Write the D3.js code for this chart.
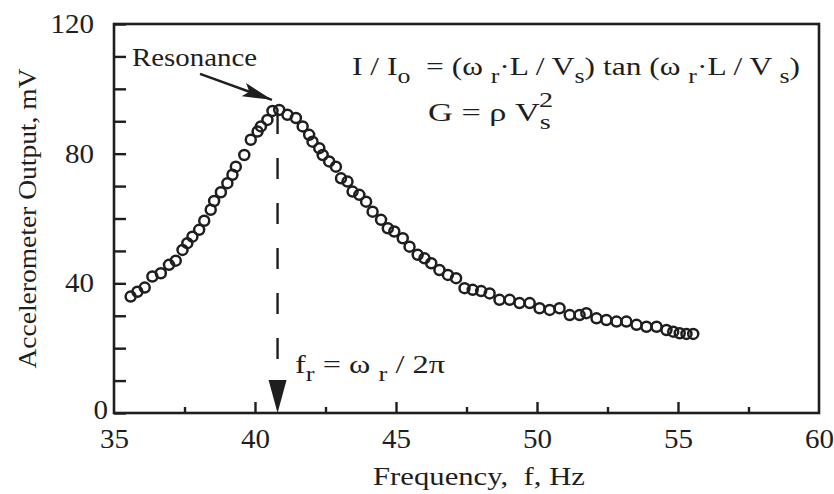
<!DOCTYPE html>
<html>
<head>
<meta charset="utf-8">
<script src="https://cdn.jsdelivr.net/npm/d3@7"></script>
<style>
    body { margin: 0; background: #ffffff; }
    svg { display: block; }
    text { font-family: "Liberation Serif", "Times New Roman", serif; fill: #1e1e1e; white-space: pre; }
</style>
</head>
<body>
<div id="chart"></div>
<script>
// Frequency (Hz) and accelerometer output (mV)
var freq = [
    35.59, 35.83, 36.09, 36.36, 36.66, 36.95, 37.19, 37.43, 37.60, 37.78,
    38.02, 38.20, 38.43, 38.55, 38.79, 39.02, 39.20, 39.32, 39.62, 39.85,
    40.09, 40.21, 40.44, 40.62, 40.86, 41.15, 41.45, 41.69, 41.92, 42.04,
    42.28, 42.40, 42.63, 42.87, 43.05, 43.28, 43.46, 43.70, 43.94, 44.17,
    44.47, 44.71, 44.94, 45.24, 45.48, 45.77, 46.01, 46.25, 46.54, 46.84,
    47.13, 47.43, 47.72, 48.02, 48.32, 48.67, 49.03, 49.38, 49.74, 50.09,
    50.45, 50.80, 51.16, 51.51, 51.75, 52.11, 52.46, 52.82, 53.17, 53.53,
    53.88, 54.24, 54.59, 54.83, 55.06, 55.30, 55.54
];
var output = [
    35.9, 37.4, 38.7, 42.1, 43.1, 45.7, 47.0, 50.3, 52.4, 54.4,
    56.5, 59.3, 62.7, 65.4, 68.1, 70.9, 73.5, 76.0, 79.6, 84.3,
    86.8, 88.4, 90.4, 93.2, 93.5, 92.0, 91.0, 88.4, 85.8, 83.7,
    81.7, 79.6, 77.6, 76.0, 72.4, 71.4, 68.3, 67.3, 65.2, 62.1,
    59.6, 57.0, 56.0, 53.9, 51.3, 48.8, 47.7, 46.2, 44.1, 42.6,
    41.6, 38.5, 38.0, 37.6, 36.9, 34.9, 34.9, 33.9, 33.9, 32.3,
    31.8, 32.3, 30.2, 30.2, 30.8, 29.2, 28.7, 28.2, 28.2, 27.2,
    26.6, 26.6, 25.6, 25.1, 24.6, 24.4, 24.4
];

// Axis ticks
var xTicks = [35, 40, 45, 50, 55, 60];
var xMinorTicks = [37.5, 42.5, 47.5, 52.5, 57.5];
var yTicks = [0, 40, 80, 120];
var yMinorTicks = [10, 20, 30, 50, 60, 70, 90, 100, 110];

// Annotations (data units)
var resonanceFreq = 40.8;
var resonanceArrow = [[38.05, 104.6], [40.6, 96.6]];

var width = 834, height = 494;
var ink = "#1e1e1e";

var x = d3.scaleLinear().domain([35, 60]).range([114, 819]);
var y = d3.scaleLinear().domain([0, 120]).range([413, 24]);

var svg = d3.select("#chart")
    .append("svg")
    .attr("width", width)
    .attr("height", height);

// Bottom axis, ticks pointing up into the plot
var xAxis = svg.append("g")
    .attr("transform", `translate(0, ${y(0)})`)
    .call(d3.axisBottom(x).tickValues(xTicks).tickSize(-11).tickPadding(16));
svg.append("g")
    .attr("transform", `translate(0, ${y(0)})`)
    .call(d3.axisBottom(x).tickValues(xMinorTicks).tickSize(-6).tickFormat(""));

// Left axis, ticks pointing right
var yAxis = svg.append("g")
    .attr("transform", `translate(${x(35)}, 0)`)
    .call(d3.axisLeft(y).tickValues(yTicks).tickSize(-12).tickPadding(20));
svg.append("g")
    .attr("transform", `translate(${x(35)}, 0)`)
    .call(d3.axisLeft(y).tickValues(yMinorTicks).tickSize(-12).tickFormat(""));

svg.selectAll(".domain").remove();
svg.selectAll(".tick line").attr("stroke", ink).attr("stroke-width", 2.4);
[xAxis, yAxis].forEach(function (a) {
    a.selectAll("text")
        .attr("font-family", null)
        .style("font-size", "27px")
        .attr("fill", ink)
        .attr("textLength", d => String(d).length * 14.5)
        .attr("lengthAdjust", "spacingAndGlyphs");
});
// the zero label sits close to the corner in the original
yAxis.selectAll(".tick text").filter(d => d === 0).attr("x", -6).attr("dy", "0.22em");
xAxis.selectAll(".tick").filter(d => d === 35 || d === 60).select("line").remove();

// Frame
svg.append("rect")
    .attr("x", x(35))
    .attr("y", y(120))
    .attr("width", x(60) - x(35))
    .attr("height", y(0) - y(120))
    .attr("fill", "none")
    .attr("stroke", ink)
    .attr("stroke-width", 2.6);

// Axis titles
svg.append("text")
    .attr("x", 373)
    .attr("y", 485)
    .attr("textLength", 212)
    .attr("lengthAdjust", "spacingAndGlyphs")
    .style("font-size", "26px")
    .text("Frequency,  f, Hz");

svg.append("text")
    .attr("transform", "rotate(-90)")
    .attr("x", -(y(0) + y(120)) / 2)
    .attr("y", 36)
    .attr("text-anchor", "middle")
    .attr("textLength", 300)
    .attr("lengthAdjust", "spacingAndGlyphs")
    .style("font-size", "26px")
    .text("Accelerometer Output, mV");

// Resonance frequency: dashed drop line with filled arrowhead
svg.append("line")
    .attr("x1", x(resonanceFreq))
    .attr("x2", x(resonanceFreq))
    .attr("y1", 113)
    .attr("y2", 380)
    .attr("stroke", ink)
    .attr("stroke-width", 2.4)
    .attr("stroke-dasharray", "21,24");

svg.append("path")
    .attr("d", `M${x(resonanceFreq) - 9},380 L${x(resonanceFreq) + 9},380 L${x(resonanceFreq)},${y(0)} Z`)
    .attr("fill", ink);

// Data points
svg.append("g")
    .selectAll("circle")
    .data(freq)
    .enter()
    .append("circle")
    .attr("cx", d => x(d))
    .attr("cy", (d, i) => y(output[i]))
    .attr("r", 5)
    .attr("fill", "none")
    .attr("stroke", ink)
    .attr("stroke-width", 2.5);

// "Resonance" label and arrow
svg.append("defs").append("marker")
    .attr("id", "head")
    .attr("viewBox", "0 0 30 14")
    .attr("refX", 30)
    .attr("refY", 7)
    .attr("markerWidth", 30)
    .attr("markerHeight", 14)
    .attr("markerUnits", "userSpaceOnUse")
    .attr("orient", "auto")
    .append("path")
    .attr("d", "M0,0 L30,7 L0,14 L6,7 Z")
    .attr("fill", ink);

svg.append("line")
    .attr("x1", x(resonanceArrow[0][0]))
    .attr("y1", y(resonanceArrow[0][1]))
    .attr("x2", x(resonanceArrow[1][0]))
    .attr("y2", y(resonanceArrow[1][1]))
    .attr("stroke", ink)
    .attr("stroke-width", 2.4)
    .attr("marker-end", "url(#head)");

svg.append("text")
    .attr("x", 132)
    .attr("y", 66)
    .attr("textLength", 125)
    .attr("lengthAdjust", "spacingAndGlyphs")
    .style("font-size", "25px")
    .text("Resonance");

// Formula helper: parts are [text, shift, dx] where shift is "sub", "sup" or none
function formula(px, py, size, len, parts) {
    var t = svg.append("text")
        .attr("x", px)
        .attr("y", py)
        .attr("textLength", len)
        .attr("lengthAdjust", "spacingAndGlyphs")
        .style("font-size", size + "px");
    var level = 0;
    parts.forEach(function (p) {
        var target = p[1] === "sub" ? 0.3 : p[1] === "sup" ? -0.55 : 0;
        var s = t.append("tspan")
            .attr("dy", ((target - level) * size) + "px")
            .style("font-size", p[1] ? (size * 0.82) + "px" : size + "px")
            .text(p[0]);
        if (p[2]) s.attr("dx", p[2]);
        level = target;
    });
    return t;
}

formula(352, 75, 26, 448, [
    ["I / I"], ["o", "sub"], ["  = (\u03c9 "], ["r", "sub"], ["\u00b7L / V"], ["s", "sub"],
    [") tan (\u03c9 "], ["r", "sub"], ["\u00b7L / V "], ["s", "sub"], [")"]
]);

formula(428, 121, 26, 125, [
    ["G = \u03c1 V"], ["s", "sub"], ["2", "sup", -9]
]);

formula(295, 373, 26, 150, [
    ["f"], ["r", "sub"], [" = \u03c9 "], ["r", "sub"], [" / 2\u03c0"]
]);
</script>
</body>
</html>
